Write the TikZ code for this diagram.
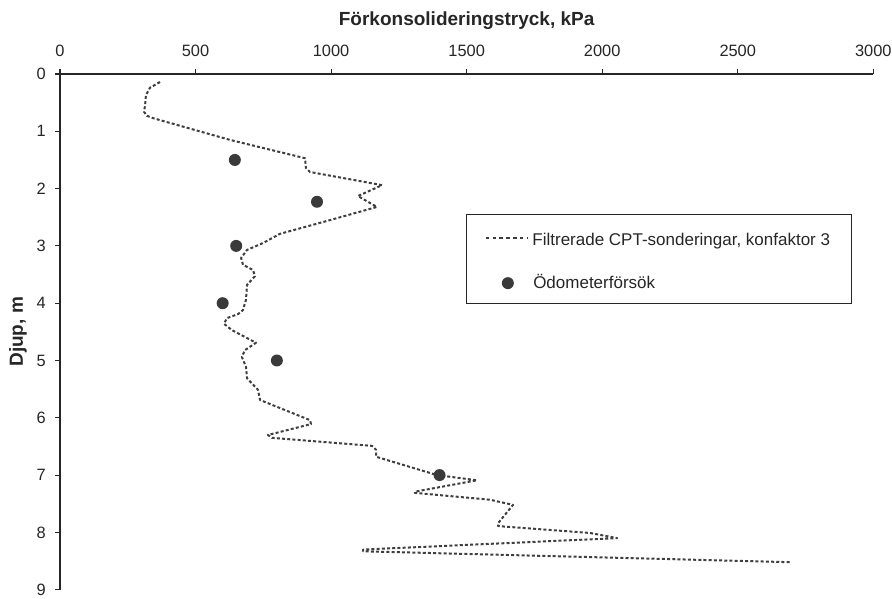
\documentclass[tikz,border=0pt]{standalone}
\usepackage{fontspec}
\setmainfont{Liberation Sans}
\usepackage{tikz}
\usetikzlibrary{positioning}

\definecolor{inkgray}{HTML}{262626}
\definecolor{dotgray}{HTML}{3A3A3A}
\definecolor{cptgray}{HTML}{3E3E3E}

\tikzset{
  axisline/.style={draw=inkgray,line width=1.4pt},
  ticklbl/.style={text=inkgray,inner sep=0pt,font=\fontsize{16.4}{18}\selectfont},
  axtitle/.style={text=inkgray,inner sep=0pt,font=\fontsize{19}{21}\selectfont\bfseries},
  cptline/.style={draw=cptgray,line width=2pt,dash pattern=on 3pt off 2.2pt,line join=round},
  oedo/.style={fill=dotgray},
  legtext/.style={text=inkgray,inner sep=0pt,anchor=base west,font=\fontsize{17}{19}\selectfont}
}

\begin{document}
\begin{tikzpicture}[x=0.2711pt,y=-57.3pt]
    \useasboundingbox (-221.3,-1.2914) rectangle (3069,9.162);
    % axes
    \draw[axisline] (0,0) -- (3000,0);
    \draw[axisline] (0,0) -- (0,9);
    \foreach \x in {0,500,...,3000} {
      \draw[axisline,line width=1.1pt] (\x,0) -- (\x,-0.09);
      \node[ticklbl,anchor=base] (xl\x) at (\x,-0.30) {\x};
    }
    \foreach \y in {0,...,9} {
      \draw[axisline,line width=1.1pt] (0,\y) -- (-19,\y);
      \node[ticklbl,anchor=east] (yl\y) at (-52,\y) {\y};
    }
    \node[axtitle,anchor=base] (xtitle) at (1500,-0.838) {Förkonsolideringstryck, kPa};
    \node[axtitle,rotate=90] (ytitle) at (-155,4.5) {Djup, m};
    % filtered CPT profile
    \draw[cptline] plot coordinates {
      (369,0.14) (332,0.24) (317,0.37) (314,0.54) (310,0.66) (321,0.73) (343,0.77)
      (627,1.15) (904,1.47) (907,1.64) (922,1.71) (1188,1.94) (1099,2.13) (1169,2.32)
      (996,2.55) (811,2.79) (749,2.95) (690,3.07) (668,3.21) (675,3.33) (712,3.42)
      (719,3.53) (690,3.68) (686,3.94) (675,4.12) (657,4.19) (616,4.26) (605,4.36)
      (634,4.47) (723,4.69) (682,4.82) (671,4.94) (686,5.11) (690,5.31) (730,5.51)
      (738,5.69) (922,6.04) (926,6.11) (767,6.30) (782,6.35) (1151,6.49) (1166,6.56)
      (1166,6.68) (1391,7.00) (1538,7.09) (1309,7.29) (1309,7.31) (1586,7.43) (1671,7.52)
      (1616,7.84) (1616,7.89) (1955,8.01) (2055,8.10) (1118,8.30) (1118,8.33) (2693,8.52)
    };
    % oedometer tests
    \foreach \p/\d in {645/1.5,948/2.23,650/3.0,600/4.0,800/5.0,1400/7.0}
      \fill[oedo] (\p,\d) circle[radius=6pt];
    % legend
    \draw[draw=inkgray,line width=1pt] (1500,2.46) rectangle (2918,4.0);
    \draw[cptline,line width=1.4pt,dash pattern=on 3.5pt off 3.3pt] (1571,2.86) -- (1726,2.86);
    \node[legtext] (legcpt) at (1742,2.985) {Filtrerade CPT-sonderingar, konfaktor 3};
    \fill[oedo] (1652,3.65) circle[radius=6pt];
    \node[legtext] (legoedo) at (1745,3.735) {Ödometerförsök};
\end{tikzpicture}
\end{document}
